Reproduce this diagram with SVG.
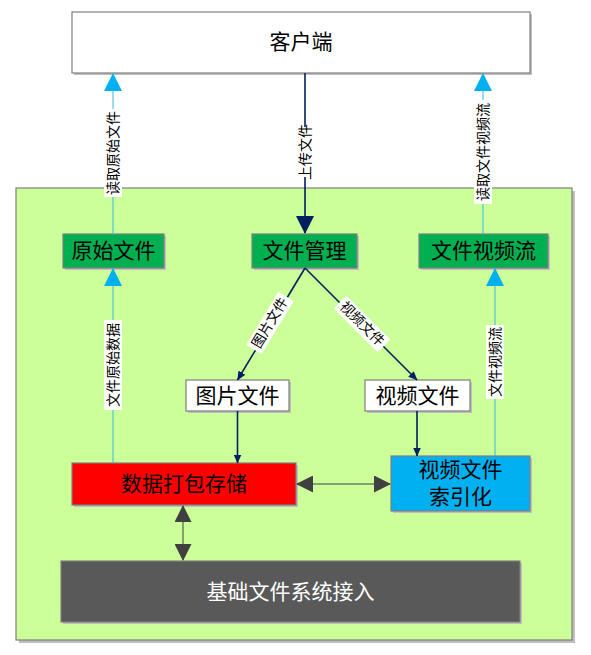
<svg xmlns="http://www.w3.org/2000/svg" width="591" height="655" viewBox="0 0 591 655">
<style>
.box{stroke:#7f7f7f;stroke-width:1.2}
.sh{fill:#bfbfbf}
.t{font-family:"Liberation Serif","Noto Sans CJK SC",serif;font-size:21px;text-anchor:middle;dominant-baseline:central;fill:#000}
.el{font-family:"Liberation Serif","Noto Sans CJK SC",serif;font-size:14px;text-anchor:middle;dominant-baseline:central;fill:#000}
.lb{fill:#fff}
.blue{stroke:#33bde8;stroke-width:1;fill:none}
.navy{stroke:#002060;stroke-width:1.6;fill:none}
.gray{stroke:#404040;stroke-width:1;fill:none}
</style>
<defs>
<marker id="ab" markerWidth="18" markerHeight="18" refX="17" refY="9" orient="auto" markerUnits="userSpaceOnUse"><path d="M0,0 L18,9 L0,18 Z" fill="#00B0F0"/></marker>
<marker id="an" markerWidth="18" markerHeight="18" refX="17" refY="9" orient="auto" markerUnits="userSpaceOnUse"><path d="M0,0 L18,9 L0,18 Z" fill="#002060"/></marker>
<marker id="ans" markerWidth="9" markerHeight="8" refX="8.5" refY="4" orient="auto" markerUnits="userSpaceOnUse"><path d="M0,0 L9,4 L0,8 Z" fill="#002060"/></marker>
<marker id="ag" markerWidth="17" markerHeight="17" refX="16" refY="8.5" orient="auto-start-reverse" markerUnits="userSpaceOnUse"><path d="M0,0 L17,8.5 L0,17 Z" fill="#404040"/></marker>
</defs>

<g id="container">
<rect class="sh" x="19" y="191" width="556" height="452"/>
<rect class="box" x="16" y="188" width="556" height="452" fill="#CCFF99"/>
</g>

<g id="client">
<rect class="sh" x="74" y="14" width="458" height="61"/>
<rect class="box" x="72" y="12" width="458" height="61" fill="#fff"/>
<text class="t" x="301" y="42" font-size="20">客户端</text>
</g>

<g id="n-yuanshi">
<rect class="sh" x="65" y="236" width="101" height="34"/>
<rect class="box" x="63" y="234" width="101" height="34" fill="#00B050"/>
<text class="t" x="113.5" y="251">原始文件</text>
</g>

<g id="n-guanli">
<rect class="sh" x="254" y="236" width="105" height="34"/>
<rect class="box" x="252" y="234" width="105" height="34" fill="#00B050"/>
<text class="t" x="304.5" y="251">文件管理</text>
</g>

<g id="n-shipinliu">
<rect class="sh" x="421" y="236" width="129" height="34"/>
<rect class="box" x="419" y="234" width="129" height="34" fill="#00B050"/>
<text class="t" x="483.5" y="251">文件视频流</text>
</g>

<g id="n-tupian">
<rect class="sh" x="188" y="382" width="103" height="31"/>
<rect class="box" x="186" y="380" width="103" height="31" fill="#fff"/>
<text class="t" x="237.5" y="395.5">图片文件</text>
</g>

<g id="n-shipin">
<rect class="sh" x="367" y="382" width="105" height="31"/>
<rect class="box" x="365" y="380" width="105" height="31" fill="#fff"/>
<text class="t" x="417.5" y="395.5">视频文件</text>
</g>

<g id="n-dabao">
<rect class="sh" x="74" y="465" width="224" height="42"/>
<rect class="box" x="72" y="463" width="224" height="42" fill="#FF0000"/>
<text class="t" x="184" y="484">数据打包存储</text>
</g>

<g id="n-suoyin">
<rect class="sh" x="393" y="458" width="139" height="55"/>
<rect class="box" x="391" y="456" width="139" height="55" fill="#00B0F0"/>
<text class="t" x="460.5" y="470">视频文件</text>
<text class="t" x="460.5" y="497">索引化</text>
</g>

<g id="n-jichu">
<rect class="sh" x="63" y="563" width="459" height="61"/>
<rect class="box" x="61" y="561" width="459" height="61" fill="#595959"/>
<text class="t" x="290.5" y="592" font-size="20" fill="#fff" style="fill:#fff">基础文件系统接入</text>
</g>

<g id="connectors">
<line class="blue" x1="113" y1="234" x2="113" y2="74" marker-end="url(#ab)"/>
<line class="navy" x1="305" y1="73" x2="305" y2="233" marker-end="url(#an)"/>
<line class="blue" x1="483" y1="234" x2="483" y2="74" marker-end="url(#ab)"/>
<line class="blue" x1="113" y1="463" x2="113" y2="269" marker-end="url(#ab)"/>
<line class="blue" x1="495" y1="456" x2="495" y2="269" marker-end="url(#ab)"/>
<line class="navy" x1="305" y1="268" x2="237.5" y2="380" marker-end="url(#ans)"/>
<line class="navy" x1="305" y1="268" x2="417" y2="380" marker-end="url(#ans)"/>
<line class="navy" x1="237.5" y1="411" x2="237.5" y2="463" marker-end="url(#ans)"/>
<line class="navy" x1="417" y1="411" x2="417" y2="456" marker-end="url(#ans)"/>
<line class="gray" x1="297" y1="484" x2="390" y2="484" marker-start="url(#ag)" marker-end="url(#ag)"/>
<line class="gray" x1="183" y1="506" x2="183" y2="560" marker-start="url(#ag)" marker-end="url(#ag)"/>

<g transform="translate(113,153) rotate(-90)"><rect class="lb" x="-44" y="-9" width="88" height="18"/><text class="el" x="0" y="0">读取原始文件</text></g>
<g transform="translate(305,152) rotate(-90)"><rect class="lb" x="-25" y="-8" width="50" height="16"/><text class="el" x="0" y="0" font-size="12">上传文件</text></g>
<g transform="translate(483,152) rotate(-90)"><rect class="lb" x="-52" y="-9" width="104" height="18"/><text class="el" x="0" y="0">读取文件视频流</text></g>
<g transform="translate(113,365) rotate(-90)"><rect class="lb" x="-45" y="-9" width="90" height="18"/><text class="el" x="0" y="0">文件原始数据</text></g>
<g transform="translate(495,362) rotate(-90)"><rect class="lb" x="-37" y="-9" width="74" height="18"/><text class="el" x="0" y="0">文件视频流</text></g>
<g transform="translate(270,323) rotate(-58.9)"><rect class="lb" x="-31" y="-9" width="62" height="18"/><text class="el" x="0" y="0">图片文件</text></g>
<g transform="translate(362,324) rotate(45)"><rect class="lb" x="-31" y="-9" width="62" height="18"/><text class="el" x="0" y="0">视频文件</text></g>
</g>
</svg>
